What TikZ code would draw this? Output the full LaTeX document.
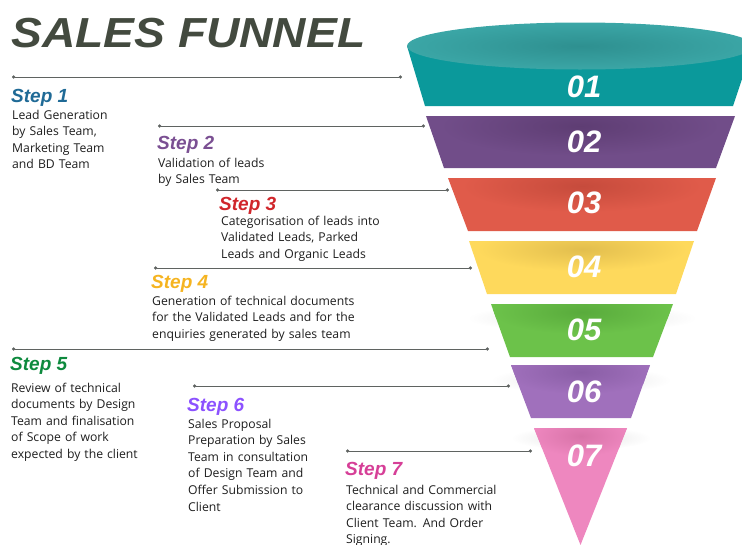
\documentclass[tikz,border=0pt]{standalone}
\usepackage{fontspec}
\setmainfont{Open Sans}
\newfontfamily\headfont{Liberation Sans}
\newfontfamily\titlefont[FakeStretch=1.1]{Liberation Sans}
\usetikzlibrary{arrows.meta}
\definecolor{titlec}{HTML}{434A3F}
\definecolor{bodyc}{HTML}{1E1E1E}
\definecolor{linec}{HTML}{5F6361}
\definecolor{c1}{HTML}{1F6A96}
\definecolor{c2}{HTML}{7A4F92}
\definecolor{c3}{HTML}{D0262B}
\definecolor{c4}{HTML}{F5B421}
\definecolor{c5}{HTML}{0E8A3E}
\definecolor{c6}{HTML}{8C52FF}
\definecolor{c7}{HTML}{D63F97}
\definecolor{f1}{HTML}{0B999B}
\definecolor{f1top}{HTML}{3BA6A6}
\definecolor{f1topd}{HTML}{2E9090}
\definecolor{f2}{HTML}{714D89}
\definecolor{f2d}{HTML}{5E3D73}
\definecolor{f3}{HTML}{E05B4A}
\definecolor{f3d}{HTML}{C64B3C}
\definecolor{f4}{HTML}{FED95C}
\definecolor{f4d}{HTML}{E2BE4E}
\definecolor{f5}{HTML}{6CC24A}
\definecolor{f5d}{HTML}{59AB3C}
\definecolor{f6}{HTML}{A070BC}
\definecolor{f6d}{HTML}{8A5EA6}
\definecolor{f7}{HTML}{EE87BF}
\definecolor{f7d}{HTML}{D873A8}
\definecolor{haze}{HTML}{E4E4E4}
\newcommand\fnlayer[4]{%
  \fill[#2] #1;
  \begin{scope}\clip #1; \shade[inner color=#3, outer color=#2] #4; \end{scope}}
\begin{document}
\begin{tikzpicture}[x=1pt,y=-1pt,
  conn/.style={draw=linec, line width=0.9pt, {Circle[length=3.2pt]}-{Circle[length=3.2pt]}},
  head/.style={anchor=base west, inner sep=0pt, font=\headfont\fontsize{19}{21}\selectfont\bfseries\itshape},
  body/.style={anchor=base west, inner sep=0pt, text width=260pt, align=left, text=bodyc, font=\fontsize{12.2}{16.6}\selectfont},
  num/.style={text=white, inner sep=0pt, font=\headfont\fontsize{31}{31}\selectfont\bfseries\itshape},
  hazeblob/.style={inner color=haze, outer color=white}]
\useasboundingbox (0,0) rectangle (742,544);
\clip (0,0) rectangle (742,544);
% soft shadows
\shade[hazeblob] (582,318) ellipse [x radius=115pt, y radius=14pt];
\shade[hazeblob] (581,380) ellipse [x radius=90pt, y radius=14pt];
\shade[hazeblob] (581,438) ellipse [x radius=70pt, y radius=12pt];
% funnel
\fnlayer{(407,46) -- (753,46) -- (733,106) -- (425,106) -- cycle}{f1}{f1}{(580,60) ellipse [x radius=150pt, y radius=30pt]}
\shade[inner color=f1topd, outer color=f1top] (580,46) ellipse [x radius=173pt, y radius=23.5pt];
\fnlayer{(426,116) -- (735,116) -- (716,168) -- (444,168) -- cycle}{f2}{f2d}{(580,126) ellipse [x radius=140pt, y radius=30pt]}
\fnlayer{(448,178) -- (716,178) -- (697,231) -- (468,231) -- cycle}{f3}{f3d}{(582,186) ellipse [x radius=120pt, y radius=26pt]}
\fnlayer{(469,241) -- (694,241) -- (676,294) -- (487,294) -- cycle}{f4}{f4d}{(582,249) ellipse [x radius=105pt, y radius=22pt]}
\fnlayer{(491,304) -- (673,304) -- (653,357) -- (510,357) -- cycle}{f5}{f5d}{(582,312) ellipse [x radius=90pt, y radius=22pt]}
\fnlayer{(511,365) -- (650,365) -- (631,418) -- (531,418) -- cycle}{f6}{f6d}{(581,372) ellipse [x radius=75pt, y radius=22pt]}
\fnlayer{(534,428) -- (627,428) -- (580.5,545) -- cycle}{f7}{f7d}{(581,436) ellipse [x radius=50pt, y radius=20pt]}
\node[num] (n1) at (584,87) {01};
\node[num] (n2) at (584,142) {02};
\node[num] (n3) at (584,203) {03};
\node[num] (n4) at (584,267) {04};
\node[num] (n5) at (584,330) {05};
\node[num] (n6) at (584,392) {06};
\node[num] (n7) at (584,456) {07};
% title
\node[anchor=base west, inner sep=0pt, text=titlec, font=\titlefont\fontsize{42}{44}\selectfont\bfseries\itshape] (title) at (11,47) {SALES FUNNEL};
% connectors
\coordinate (s1a) at (12,77);  \coordinate (s1b) at (402,77);
\coordinate (s2a) at (158,126); \coordinate (s2b) at (425,126);
\coordinate (s3a) at (216,190); \coordinate (s3b) at (449,190);
\coordinate (s4a) at (154,268); \coordinate (s4b) at (472,268);
\coordinate (s5a) at (12,349);  \coordinate (s5b) at (489,349);
\coordinate (s6a) at (193,386); \coordinate (s6b) at (510,386);
\coordinate (s7a) at (346,451); \coordinate (s7b) at (532,451);
\foreach \i in {1,...,7} {\draw[conn] (s\i a) -- (s\i b);}
% steps
\node[head, text=c1] (h1) at (11,102) {Step 1};
\node[body] (b1) at (12,119) {Lead Generation\\by Sales Team,\\Marketing Team\\and BD Team};
\node[head, text=c2] (h2) at (157,149) {Step 2};
\node[body] (b2) at (158,167) {Validation of leads\\by Sales Team};
\node[head, text=c3] (h3) at (219,210) {Step 3};
\node[body] (b3) at (221,225) {Categorisation of leads into\\Validated Leads, Parked\\Leads and Organic Leads};
\node[head, text=c4] (h4) at (151,288) {Step 4};
\node[body] (b4) at (152,305) {Generation of technical documents\\for the Validated Leads and for the\\enquiries generated by sales team};
\node[head, text=c5] (h5) at (10,370) {Step 5};
\node[body] (b5) at (11,392) {Review of technical\\documents by Design\\Team and finalisation\\of Scope of work\\expected by the client};
\node[head, text=c6] (h6) at (187,411) {Step 6};
\node[body] (b6) at (188,428) {Sales Proposal\\Preparation by Sales\\Team in consultation\\of Design Team and\\Offer Submission to\\Client};
\node[head, text=c7] (h7) at (345,475) {Step 7};
\node[body] (b7) at (346,494) {Technical and Commercial\\clearance discussion with\\Client Team. And Order\\Signing.};
\end{tikzpicture}
\end{document}
